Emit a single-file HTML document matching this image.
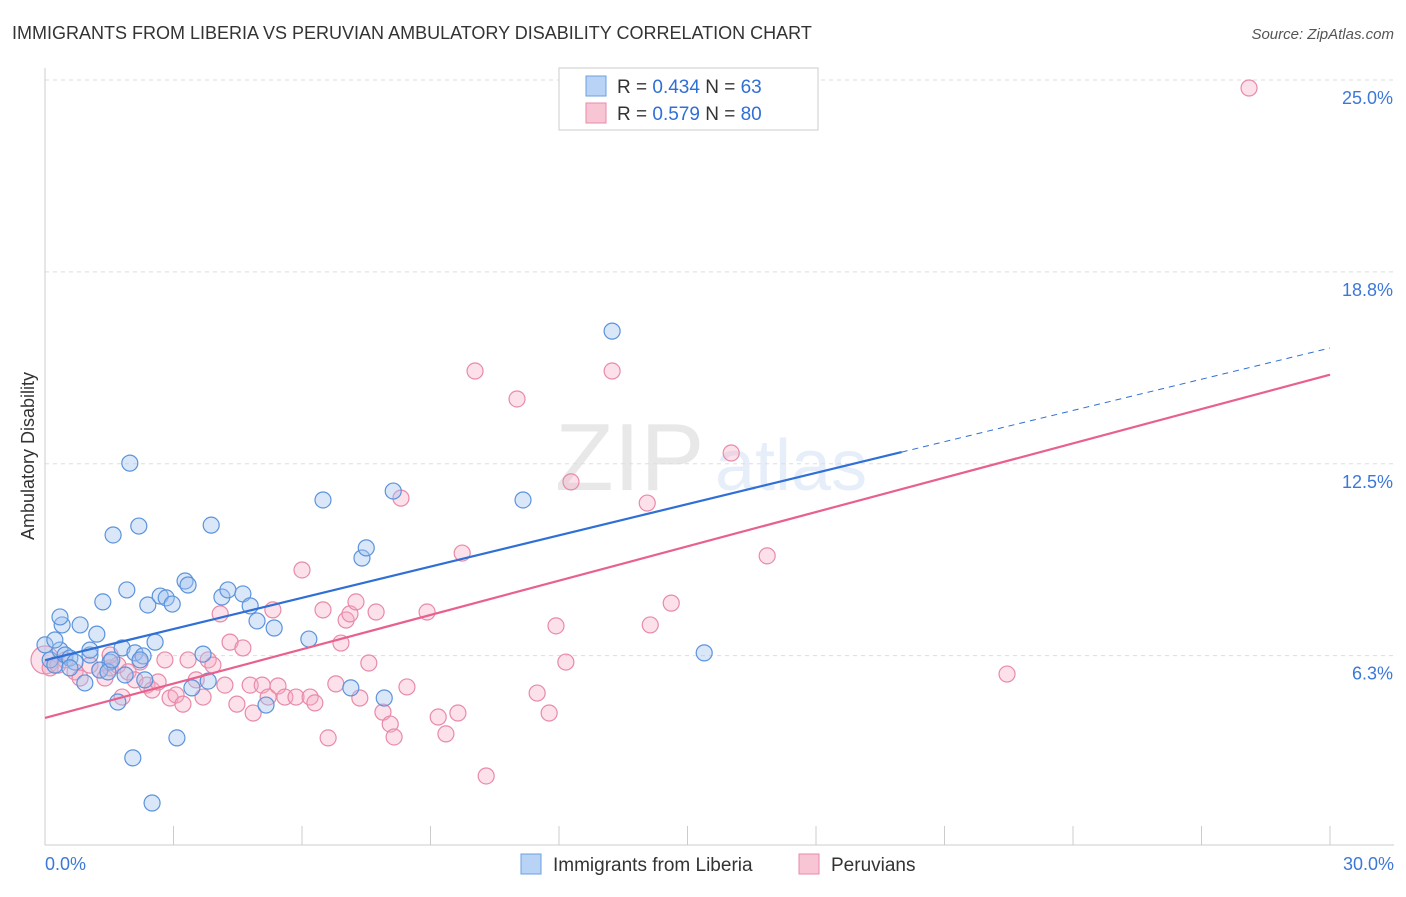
<!DOCTYPE html>
<html><head><meta charset="utf-8"><style>
body{margin:0;background:#fff;font-family:"Liberation Sans",sans-serif;}
svg text{font-family:"Liberation Sans",sans-serif;}
</style></head><body>
<svg id="chart" width="1406" height="892" xmlns="http://www.w3.org/2000/svg">
<text x="12" y="39" font-size="18" fill="#333">IMMIGRANTS FROM LIBERIA VS PERUVIAN AMBULATORY DISABILITY CORRELATION CHART</text>
<text x="1394" y="39" font-size="15" fill="#555" text-anchor="end" font-style="italic">Source: ZipAtlas.com</text>
<g opacity="0.13"><text x="555" y="490" font-size="96" font-family="Liberation Serif" fill="#555">ZIP</text><text x="715" y="490" font-size="72" fill="#4a86d6">atlas</text></g>
<g id="grid"></g>
<g id="axes"></g>
<text transform="translate(34,456) rotate(-90)" font-size="18" fill="#333" text-anchor="middle">Ambulatory Disability</text>
<g id="pts"></g>
<g id="lines"></g>
<g>
<rect x="559" y="68" width="259" height="62" fill="#fff" stroke="#ccc"/>
<rect x="586" y="76" width="20" height="20" fill="#b8d3f5" stroke="#6a9fe0"/>
<rect x="586" y="103" width="20" height="20" fill="#f8c5d5" stroke="#e88aa8"/>
<text x="617" y="93" font-size="19" fill="#333">R = <tspan fill="#2f6fd6">0.434</tspan>    N = <tspan fill="#2f6fd6">63</tspan></text>
<text x="617" y="120" font-size="19" fill="#333">R = <tspan fill="#2f6fd6">0.579</tspan>    N = <tspan fill="#2f6fd6">80</tspan></text>
</g>
<g>
<rect x="521" y="854" width="20" height="20" fill="#b8d3f5" stroke="#6a9fe0"/>
<text x="553" y="871" font-size="19" fill="#333">Immigrants from Liberia</text>
<rect x="799" y="854" width="20" height="20" fill="#f8c5d5" stroke="#e88aa8"/>
<text x="831" y="871" font-size="19" fill="#333">Peruvians</text>
</g>
</svg>
<script>
const blueX=[.12,.23,.35,.47,.58,.70,.40,.82,.93,1.05,1.21,1.35,1.52,1.59,1.70,1.80,1.91,1.98,2.10,2.19,2.29,2.40,2.50,2.57,2.69,2.83,2.97,3.08,3.27,3.34,3.43,3.69,3.81,3.88,4.13,4.27,4.62,4.79,4.95,5.16,5.35,6.16,6.49,7.14,7.40,7.50,7.92,8.13,11.16,13.24,15.39,2.05,.35,1.28,1.87,2.33,0,.58,1.47,2.22,1.05,.23,1.56];
const blueY=[6.11,5.94,6.43,6.27,6.17,6.04,7.25,7.25,5.36,6.27,6.95,8.00,6.04,10.18,4.74,6.50,8.39,12.52,6.34,10.47,6.24,7.90,1.45,6.69,8.19,8.13,7.93,3.57,8.68,8.55,5.20,6.30,5.42,10.50,8.16,8.39,8.26,7.87,7.38,4.64,7.15,6.79,11.32,5.20,9.43,9.76,4.87,11.61,11.32,16.82,6.34,2.92,7.51,5.78,5.62,5.46,6.60,5.85,5.72,6.11,6.43,6.76,6.11];
const pinkX=[0,.12,.30,.47,.70,.82,1.05,1.28,1.40,1.52,1.70,1.80,1.94,2.10,2.22,2.38,2.50,2.64,2.80,2.92,3.06,3.22,3.34,3.53,3.69,3.81,3.92,4.09,4.20,4.32,4.48,4.62,4.79,4.86,5.07,5.21,5.32,5.44,5.60,5.86,6.00,6.19,6.30,6.49,6.61,6.79,6.91,7.03,7.12,7.26,7.35,7.56,7.73,7.89,8.06,8.15,8.31,8.45,8.92,9.18,9.36,9.64,9.74,10.04,10.30,11.02,11.49,11.77,11.93,12.16,12.28,13.24,14.06,14.13,14.62,16.02,16.86,22.46,28.11,1.52];
const pinkY=[6.11,5.85,5.94,6.11,5.72,5.52,5.94,5.78,5.52,5.85,5.94,4.90,5.72,5.46,6.04,5.29,5.13,5.39,6.11,4.87,4.97,4.67,6.11,5.46,4.90,6.11,5.94,7.61,5.29,6.69,4.67,6.50,5.29,4.38,5.29,4.90,7.74,5.26,4.90,4.90,9.04,4.90,4.71,7.74,3.57,5.33,6.66,7.41,7.61,8.00,4.87,6.01,7.67,4.41,4.02,3.60,11.38,5.23,7.67,4.25,3.70,4.38,9.59,15.52,2.33,14.61,5.03,4.38,7.22,6.04,11.91,15.52,11.22,7.25,7.96,12.85,9.50,5.65,24.74,6.27];
const yTicks=[25,18.8,12.5,6.3];
const yTickLabels=["25.0%","18.8%","12.5%","6.3%"];
const blueLine=[6.1,16.27], pinkLine=[4.22,15.4];
const X=v=>45+v*1285/30, Y=v=>80+(25-v)*30.7;
const NS="http://www.w3.org/2000/svg";
function mk(t,a,p){const e=document.createElementNS(NS,t);for(const k in a)e.setAttribute(k,a[k]);p.appendChild(e);return e;}
const grid=document.getElementById('grid'),axes=document.getElementById('axes');
yTicks.forEach((t,i)=>{
 const g=mk('line',{x1:45,x2:1394,y1:Y(t===18.8?18.75:t===6.3?6.25:t),y2:Y(t===18.8?18.75:t===6.3?6.25:t),stroke:'#ddd','stroke-dasharray':'4,4'},grid);
 
 
 const l=mk('text',{x:1393,y:Y(t===18.8?18.75:t===6.3?6.25:t)+24,'font-size':18,fill:'#3c78d8','text-anchor':'end'},axes);
 l.textContent=yTickLabels[i];
 
 
});
const a1=mk('line',{x1:45,x2:45,y1:68,y2:845,stroke:'#ccc'},axes);
const a2=mk('line',{x1:45,x2:1394,y1:845,y2:845,stroke:'#ccc'},axes);
for(let v=3;v<=30;v+=3){const t=mk('line',{x1:X(v),x2:X(v),y1:826,y2:845,stroke:'#ccc'},axes);
 
 }
const x0=mk('text',{x:45,y:870,'font-size':18,fill:'#3c78d8'},axes);x0.textContent='0.0%';


const x1=mk('text',{x:1394,y:870,'font-size':18,fill:'#3c78d8','text-anchor':'end'},axes);x1.textContent='30.0%';


const pts=document.getElementById('pts');


pinkX.forEach((x,i)=>{const c=mk('circle',{cx:X(x),cy:Y(pinkY[i]),r:i===0?14:8,fill:'rgba(246,170,196,0.35)',stroke:'#e88aa8','stroke-width':1.2},pts);
 
 });
blueX.forEach((x,i)=>{const c=mk('circle',{cx:X(x),cy:Y(blueY[i]),r:8,fill:'rgba(160,196,240,0.4)',stroke:'#5b93dc','stroke-width':1.2},pts);
 
 });
const ln=document.getElementById('lines');
const bv=x=>blueLine[0]+(blueLine[1]-blueLine[0])*x/30;
const b1=mk('line',{x1:X(0),y1:Y(bv(0)),x2:X(20),y2:Y(bv(20)),stroke:'#2f6fd6','stroke-width':2.2},ln);


const b2=mk('line',{x1:X(20),y1:Y(bv(20)),x2:X(30),y2:Y(bv(30)),stroke:'#2f6fd6','stroke-width':1,'stroke-dasharray':'6,5'},ln);


const p1=mk('line',{x1:X(0),y1:Y(pinkLine[0]),x2:X(30),y2:Y(pinkLine[1]),stroke:'#e8608c','stroke-width':2.2},ln);


</script>
</body></html>
